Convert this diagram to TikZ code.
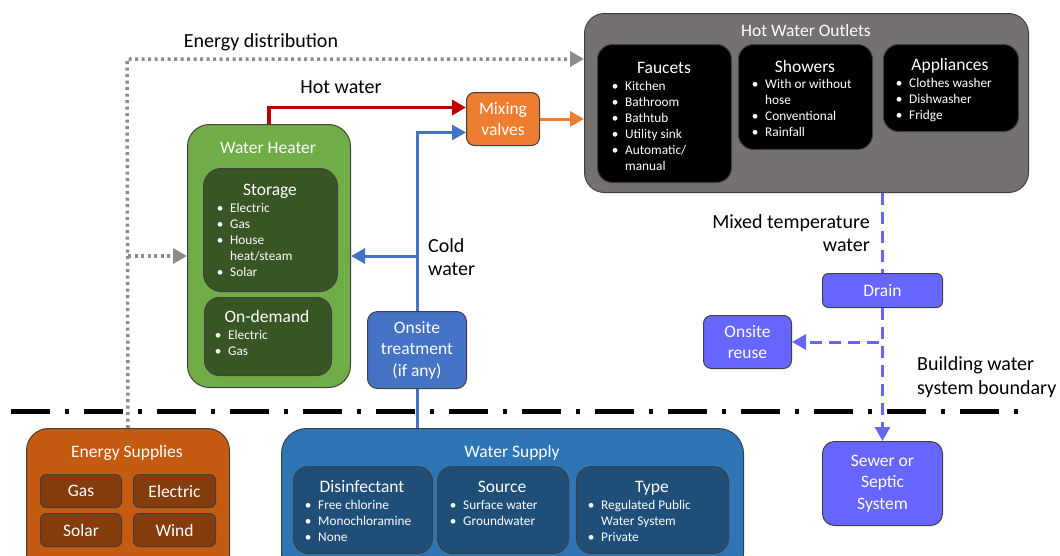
\documentclass[tikz,border=0pt]{standalone}
\usepackage{fontspec}
\setmainfont{Carlito}
\usetikzlibrary{arrows.meta}

\definecolor{heatgreen}{HTML}{70AD47}
\definecolor{heatdark}{HTML}{375623}
\definecolor{outletgray}{HTML}{767171}
\definecolor{mixorange}{HTML}{ED7D31}
\definecolor{coldblue}{HTML}{4472C4}
\definecolor{hotred}{HTML}{C00000}
\definecolor{drainblue}{HTML}{6666FF}
\definecolor{supplyblue}{HTML}{2E75B6}
\definecolor{supplydark}{HTML}{1F4E79}
\definecolor{energybrown}{HTML}{C55A11}
\definecolor{energydark}{HTML}{843C0C}
\definecolor{linegray}{HTML}{8C8C8C}

\newcommand{\titlefont}{\fontsize{17.5}{21.5}\selectfont}
\newcommand{\listfont}{\fontsize{13.3}{16}\selectfont}
\newcommand{\labelfont}{\fontsize{20}{23.5}\selectfont}
\newcommand{\bdot}{\makebox[10pt][c]{•}}
\newcommand{\blist}[1]{\begin{tabular}{@{}l@{\hspace{5pt}}l@{}}#1\end{tabular}}

\begin{document}
\begin{tikzpicture}[x=1pt, y=-1pt,
    box/.style={draw=black!75, line width=1pt, anchor=north west, inner sep=0pt,
        text=white, align=center, font=\titlefont},
    ttl/.style={text=white, font=\titlefont, inner sep=0pt, anchor=mid},
    lst/.style={text=white, font=\listfont, inner sep=0pt, anchor=north west},
    lbl/.style={font=\labelfont, inner sep=0pt},
    tip/.style={-{Triangle[length=14pt, width=15pt]}},
    energy/.style={linegray, line width=3.5pt, dash pattern=on 3pt off 3.5pt},
    hot/.style={hotred, line width=3.5pt},
    cold/.style={coldblue, line width=3pt},
    drain/.style={drainblue, line width=3pt, dash pattern=on 12pt off 7pt},
    boundary/.style={black, line width=5pt, dash pattern=on 39pt off 15pt on 4pt off 15pt}]
    \useasboundingbox (0,0) rectangle (1060,555);

    % Hot water outlets
    \node[box, fill=outletgray, rounded corners=20pt, minimum width=444pt, minimum height=179pt] (outlets) at (584,13) {};
    \node[ttl] (outletsTitle) at (806,34) {Hot Water Outlets};
    \node[box, fill=black, rounded corners=15pt, minimum width=134pt, minimum height=138pt] (faucets) at (597,44) {};
    \node[ttl] (faucetsTitle) at (664,71) {Faucets};
    \node[lst] (faucetsList) at (610,79) {\blist{\bdot & Kitchen\\ \bdot & Bathroom\\ \bdot & Bathtub\\
        \bdot & Utility sink\\ \bdot & Automatic/\\ & manual}};
    \node[box, fill=black, rounded corners=15pt, minimum width=134pt, minimum height=105pt] (showers) at (738,44) {};
    \node[ttl] (showersTitle) at (805,70) {Showers};
    \node[lst] (showersList) at (750,77) {\blist{\bdot & With or without\\ & hose\\ \bdot & Conventional\\ \bdot & Rainfall}};
    \node[box, fill=black, rounded corners=15pt, minimum width=135pt, minimum height=87pt] (appliances) at (883,44) {};
    \node[ttl] (appliancesTitle) at (950,68) {Appliances};
    \node[lst] (appliancesList) at (894,76) {\blist{\bdot & Clothes washer\\ \bdot & Dishwasher\\ \bdot & Fridge}};

    % Water heater
    \node[box, fill=heatgreen, rounded corners=22pt, minimum width=163pt, minimum height=263pt] (heater) at (187,124) {};
    \node[ttl] (heaterTitle) at (268,151) {Water Heater};
    \node[box, fill=heatdark, rounded corners=18pt, minimum width=134pt, minimum height=123pt] (storage) at (203,168) {};
    \node[ttl] (storageTitle) at (270,193) {Storage};
    \node[lst] (storageList) at (215,201) {\blist{\bdot & Electric\\ \bdot & Gas\\ \bdot & House\\ & heat/steam\\ \bdot & Solar}};
    \node[box, fill=heatdark, rounded corners=15pt, minimum width=127pt, minimum height=78pt] (ondemand) at (204,297) {};
    \node[ttl] (ondemandTitle) at (267,320) {On-demand};
    \node[lst] (ondemandList) at (213,328) {\blist{\bdot & Electric\\ \bdot & Gas}};

    % Mixing and treatment
    \node[box, fill=mixorange, rounded corners=8pt, minimum width=73pt, minimum height=53pt] (mix) at (466,92) {Mixing\\valves};
    \node[box, fill=coldblue, rounded corners=10pt, minimum width=99pt, minimum height=77pt] (treat) at (367,311) {Onsite\\treatment\\(if any)};

    % Drain side
    \node[box, fill=drainblue, rounded corners=6pt, minimum width=120pt, minimum height=34pt] (drainBox) at (822,273) {Drain};
    \node[box, fill=drainblue, rounded corners=8pt, minimum width=88pt, minimum height=53pt] (reuse) at (703,315) {Onsite\\reuse};
    \node[box, fill=drainblue, rounded corners=12pt, minimum width=120pt, minimum height=84pt] (sewer) at (822,441) {Sewer or\\Septic\\System};

    % Energy supplies
    \node[box, fill=energybrown, rounded corners=22pt, minimum width=203pt, minimum height=150pt] (esup) at (26,428) {};
    \node[ttl] (esupTitle) at (127,455) {Energy Supplies};
    \node[box, fill=energydark, rounded corners=6pt, minimum width=81pt, minimum height=33pt] (gas) at (40,474) {Gas};
    \node[box, fill=energydark, rounded corners=6pt, minimum width=82pt, minimum height=33pt] (electric) at (133,474) {Electric};
    \node[box, fill=energydark, rounded corners=6pt, minimum width=81pt, minimum height=33pt] (solar) at (40,513) {Solar};
    \node[box, fill=energydark, rounded corners=6pt, minimum width=82pt, minimum height=33pt] (wind) at (133,513) {Wind};

    % Water supply
    \node[box, fill=supplyblue, rounded corners=25pt, minimum width=462pt, minimum height=150pt] (wsup) at (281,428) {};
    \node[ttl] (wsupTitle) at (512,455) {Water Supply};
    \node[box, fill=supplydark, rounded corners=15pt, minimum width=139pt, minimum height=87pt] (disinf) at (293,466) {};
    \node[ttl] (disinfTitle) at (362,490) {Disinfectant};
    \node[lst] (disinfList) at (303,498) {\blist{\bdot & Free chlorine\\ \bdot & Monochloramine\\ \bdot & None}};
    \node[box, fill=supplydark, rounded corners=15pt, minimum width=131pt, minimum height=87pt] (source) at (437,466) {};
    \node[ttl] (sourceTitle) at (502,490) {Source};
    \node[lst] (sourceList) at (448,498) {\blist{\bdot & Surface water\\ \bdot & Groundwater}};
    \node[box, fill=supplydark, rounded corners=15pt, minimum width=152pt, minimum height=87pt] (stype) at (576,466) {};
    \node[ttl] (stypeTitle) at (652,490) {Type};
    \node[lst] (stypeList) at (586,498) {\blist{\bdot & Regulated Public\\ & Water System\\ \bdot & Private}};

    % Building boundary
    \draw[boundary] (11,411) -- (1018,411);

    % Labels
    \node[lbl, anchor=mid] (edLabel) at (261,45) {Energy distribution};
    \node[lbl, anchor=mid] (hotLabel) at (341,91) {Hot water};
    \node[lbl, align=left, anchor=west] (coldLabel) at (428,257) {Cold\\water};
    \node[lbl, align=right, anchor=east] (mixedLabel) at (870,233) {Mixed temperature\\water};
    \node[lbl, align=left, anchor=west] (boundLabel) at (917,377) {Building water\\system boundary};

    % Energy distribution
    \coordinate (edTop) at (127,59);
    \draw[energy, tip] (esup.north) -- (edTop) -- (outlets.west |- edTop);
    \draw[energy, tip] (esup.north |- heater.west) -- (heater.west);

    % Hot and cold water
    \draw[hot, tip] (heater.north) |- ([yshift=11.5pt]mix.west);
    \draw[mixorange, line width=3pt, tip] (mix.east) -- (mix.east -| outlets.west);
    \draw[cold, tip] (treat.north) |- ([yshift=-13.5pt]mix.west);
    \draw[cold, tip] (treat.north |- heater.east) -- (heater.east);
    \draw[cold] (treat.south |- wsup.north) -- (treat.south);

    % Drain
    \draw[drain] (drainBox.north |- outlets.south) -- (drainBox.north);
    \draw[drain, tip] (drainBox.south) |- (reuse.east);
    \draw[drain, tip] (drainBox.south) -- (sewer.north);
\end{tikzpicture}
\end{document}
